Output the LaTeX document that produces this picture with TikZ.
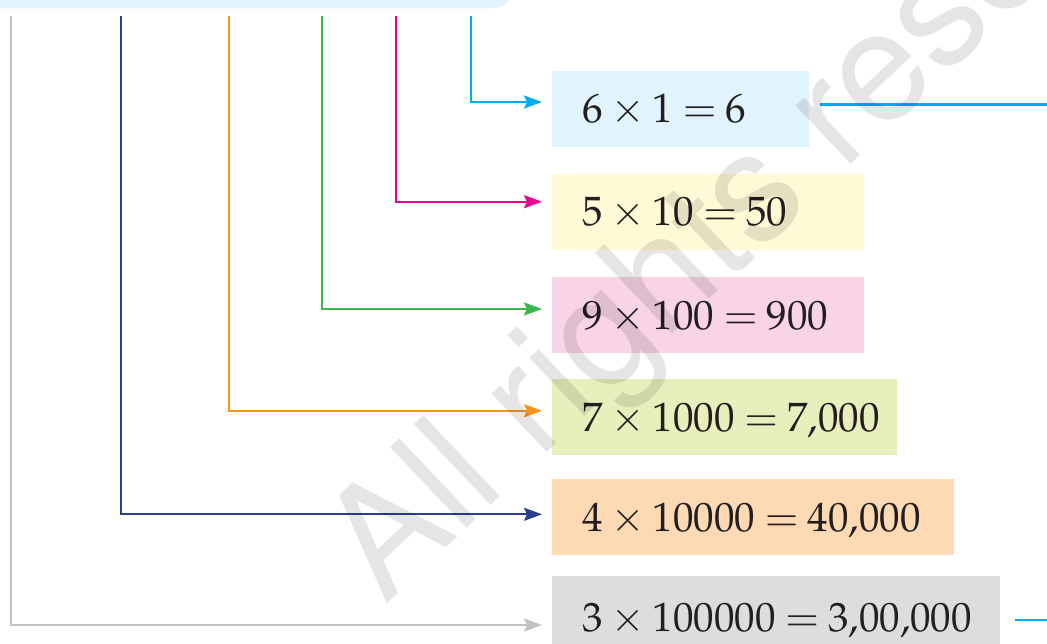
\documentclass[tikz,border=0pt]{standalone}
\usepackage[T1]{fontenc}
\usepackage{mathpazo}
\usepackage{helvet}
\usetikzlibrary{arrows.meta}
\definecolor{ink}{HTML}{231F20}
\definecolor{cyanl}{HTML}{00AEEF}
\definecolor{magl}{HTML}{EC008C}
\definecolor{greenl}{HTML}{3AB54A}
\definecolor{orangel}{HTML}{F7941D}
\definecolor{navyl}{HTML}{2B3F8E}
\definecolor{grayl}{HTML}{C2C2C2}
\definecolor{topfill}{HTML}{E1F3FC}
\definecolor{fa}{HTML}{E1F3FC}
\definecolor{fb}{HTML}{FFF9D6}
\definecolor{fc}{HTML}{F8D4E6}
\definecolor{fd}{HTML}{E8EFBC}
\definecolor{fe}{HTML}{FDDAB3}
\definecolor{ff}{HTML}{DCDDDE}
\newcommand\mysp{\medmuskip=3.5mu\relax\thickmuskip=4mu\relax}
\begin{document}
\begin{tikzpicture}[x=1pt,y=-1pt,
  conn/.style={line width=2.2pt, -{Stealth[length=18pt,width=13pt,inset=3pt]}, shorten >=10pt},
  outline/.style={line width=2.2pt},
  valbox/.style={anchor=west, inner sep=0pt, minimum height=76pt, text height=28pt, text depth=0pt, text=ink, font={\fontsize{41}{41}\selectfont}},
  wmark/.style={rotate=43.5, anchor=base west, inner sep=0pt, text=black, text opacity=0.1, font={\sffamily\fontsize{153}{153}\selectfont}}
]
\useasboundingbox (0,0) rectangle (1047,644);
\clip (0,0) rectangle (1047,644);
\node[fill=topfill, rounded corners=20pt, minimum width=600pt, minimum height=80pt, anchor=south east, inner sep=0pt] (top) at (513,8.5) {};

\node[valbox, fill=fa] (b1) at (552,109) {\makebox[257pt][l]{\hspace{30pt}$\mysp 6\times1=6$}};
\node[valbox, fill=fb] (b2) at (552,211.7) {\makebox[312pt][l]{\hspace{30pt}$\mysp 5\times10=50$}};
\node[valbox, fill=fc] (b3) at (552,315.3) {\makebox[312pt][l]{\hspace{30pt}$\mysp 9\times100=900$}};
\node[valbox, fill=fd] (b4) at (552,417) {\makebox[345pt][l]{\hspace{30pt}$\mysp 7\times1000=7{,}000$}};
\node[valbox, fill=fe] (b5) at (552,517) {\makebox[402pt][l]{\hspace{30pt}$\mysp 4\times10000=40{,}000$}};
\node[valbox, fill=ff, minimum height=82pt] (b6) at (552,617) {\makebox[448pt][l]{\hspace{30pt}$\mysp 3\times100000=3{,}00{,}000$}};

\coordinate (s1) at (471,16);
\coordinate (s2) at (396,16);
\coordinate (s3) at (322,16);
\coordinate (s4) at (228.7,16);
\coordinate (s5) at (120.7,16);
\coordinate (s6) at (11.3,16);

\draw[conn, cyanl] (s1) |- ([yshift=7pt]b1.west);
\draw[conn, magl] (s2) |- ([yshift=10pt]b2.west);
\draw[conn, greenl] (s3) |- ([yshift=6.3pt]b3.west);
\draw[conn, orangel] (s4) |- ([yshift=6.3pt]b4.west);
\draw[conn, navyl] (s5) |- ([yshift=2.7pt]b5.west);
\draw[conn, grayl] (s6) |- ([yshift=-8pt]b6.west);

\draw[outline, cyanl] ([xshift=11pt,yshift=4.5pt]b1.east) -- ++(260,0);
\draw[outline, cyanl] ([xshift=15pt,yshift=-3pt]b6.east) -- ++(60,0);

\node[wmark] (wm) at (385,606) {All rights reserved};
\end{tikzpicture}
\end{document}
